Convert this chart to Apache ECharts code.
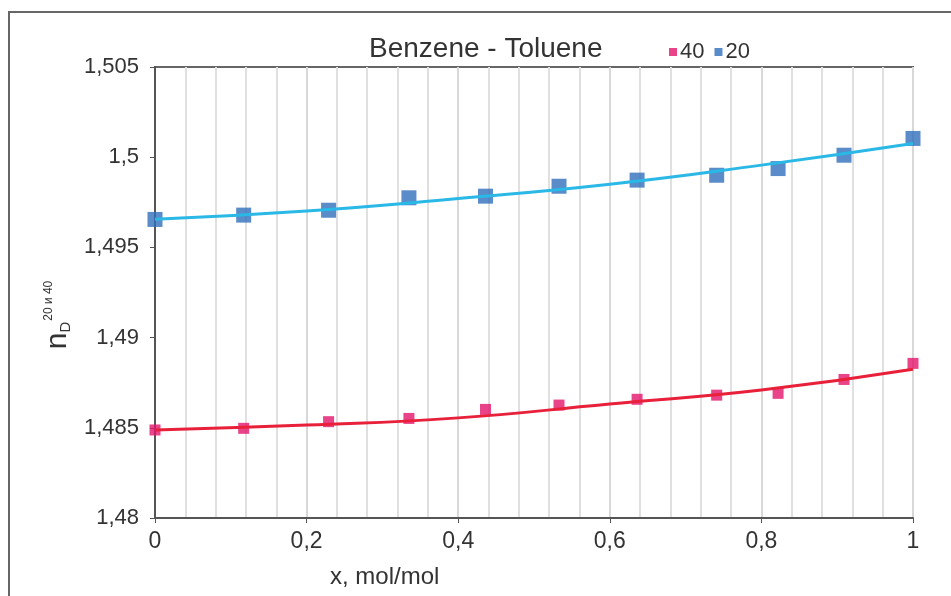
<!DOCTYPE html>
<html>
<head>
<meta charset="utf-8">
<title>Benzene - Toluene</title>
<script src="https://cdn.jsdelivr.net/npm/echarts@6/dist/echarts.min.js"></script>
<style>
  html, body { margin: 0; padding: 0; background: #fff; }
  #chart { width: 951px; height: 596px; }
</style>
</head>
<body>
<div id="chart"></div>
<script>
// мольная доля толуола
var xPoints = [0, 0.117, 0.229, 0.335, 0.436, 0.533, 0.636, 0.741, 0.822, 0.909, 1.0];
// показатель преломления при 40 и 20 градусах
var n40 = [1.48488, 1.48497, 1.48534, 1.48552, 1.48602, 1.48626, 1.48658, 1.48681, 1.48691, 1.48768, 1.48857];
var n20 = [1.49655, 1.49679, 1.49706, 1.49775, 1.49784, 1.49839, 1.49873, 1.4990, 1.49937, 1.50011, 1.50104];
// линии тренда
var trendX = [0, 0.2, 0.4, 0.6, 0.8, 1.0];
var trend40 = [1.48488, 1.48515, 1.48555, 1.48632, 1.48709, 1.48824];
var trend20 = [1.49656, 1.49702, 1.49771, 1.49850, 1.49956, 1.50076];
var xTicks = ['0', '0,2', '0,4', '0,6', '0,8', '1'];

function pairs(xs, ys) {
  return xs.map(function (x, i) { return [x, ys[i]]; });
}
function comma(v) {
  return String(Math.round(v * 1000) / 1000).replace('.', ',');
}

var myChart = echarts.init(document.getElementById('chart'));
var font = '"Liberation Sans", Arial, sans-serif';

var option = {
  backgroundColor: '#fff',
  animation: false,
  textStyle: { fontFamily: font },
  title: {
    text: 'Benzene - Toluene',
    left: 364,
    top: 30,
    textStyle: { fontSize: 28, fontWeight: 'normal', color: '#333', fontFamily: font }
  },
  legend: {
    left: 664,
    top: 36,
    data: ['40', '20'],
    icon: 'rect',
    itemWidth: 8,
    itemHeight: 8,
    itemGap: 10,
    textStyle: { fontSize: 22, color: '#333', fontFamily: font, padding: [0, 0, 0, -2] }
  },
  graphic: [
    {
      // рамка картинки
      type: 'rect',
      shape: { x: 9, y: 12, width: 980, height: 620 },
      style: { fill: 'none', stroke: '#666', lineWidth: 2 },
      silent: true
    },
    {
      type: 'text',
      left: 330,
      top: 565,
      style: { text: 'x, mol/mol', fontSize: 24, fill: '#333', fontFamily: font }
    }
  ],
  grid: {
    left: 155, right: 38, top: 67, bottom: 78, containLabel: false,
    show: true, borderColor: '#666', borderWidth: 2, backgroundColor: 'transparent'
  },
  xAxis: {
    type: 'value',
    min: 0,
    max: 1,
    interval: 0.2,
    axisLine: { show: true, onZero: false, lineStyle: { color: '#555', width: 2 } },
    axisTick: { show: true, length: 5, lineStyle: { color: '#555' } },
    axisLabel: {
      fontSize: 23,
      color: '#333',
      margin: 12,
      formatter: function (v) { return xTicks[Math.round(v / 0.2)]; }
    },
    splitLine: { show: true, lineStyle: { color: '#d8d8d8', width: 2 } },
    minorTick: { show: false, splitNumber: 5 },
    minorSplitLine: { show: true, lineStyle: { color: '#e0e0e0', width: 2 } }
  },
  yAxis: {
    type: 'value',
    min: 1.48,
    max: 1.505,
    interval: 0.005,
    name: '{n|n}{sub|D}{sup|20 и 40}',
    nameLocation: 'middle',
    nameGap: 78,
    nameRotate: 90,
    nameTextStyle: {
      padding: [0, 0, 0, -45],
      rich: {
        n: { fontSize: 30, color: '#333', fontFamily: font },
        sub: { fontSize: 15, color: '#333', fontFamily: font, verticalAlign: 'bottom', padding: [12, 0, 0, 0] },
        sup: { fontSize: 12, color: '#333', fontFamily: font, verticalAlign: 'top', padding: [0, 0, 14, 1] }
      }
    },
    axisLine: { show: true, lineStyle: { color: '#555', width: 2 } },
    axisTick: { show: true, length: 5, lineStyle: { color: '#555' } },
    axisLabel: { fontSize: 22, color: '#333', margin: 16, formatter: comma },
    splitLine: { show: false }
  },
  series: [
    {
      name: '40',
      type: 'scatter',
      symbol: 'rect',
      symbolSize: 11,
      itemStyle: { color: '#e3146c' },
      z: 2,
      data: pairs(xPoints, n40)
    },
    {
      name: '20',
      type: 'scatter',
      symbol: 'rect',
      symbolSize: 15,
      itemStyle: { color: '#2f6fba' },
      z: 2,
      data: pairs(xPoints, n20)
    },
    {
      name: 'тренд 40',
      type: 'line',
      smooth: true,
      showSymbol: false,
      lineStyle: { color: '#e8203a', width: 3 },
      z: 3,
      data: pairs(trendX, trend40)
    },
    {
      name: 'тренд 20',
      type: 'line',
      smooth: true,
      showSymbol: false,
      lineStyle: { color: '#2ab8e6', width: 3 },
      z: 3,
      data: pairs(trendX, trend20)
    }
  ]
};

myChart.setOption(option);
window.onresize = function () {
  myChart.resize();
};
</script>
</body>
</html>
